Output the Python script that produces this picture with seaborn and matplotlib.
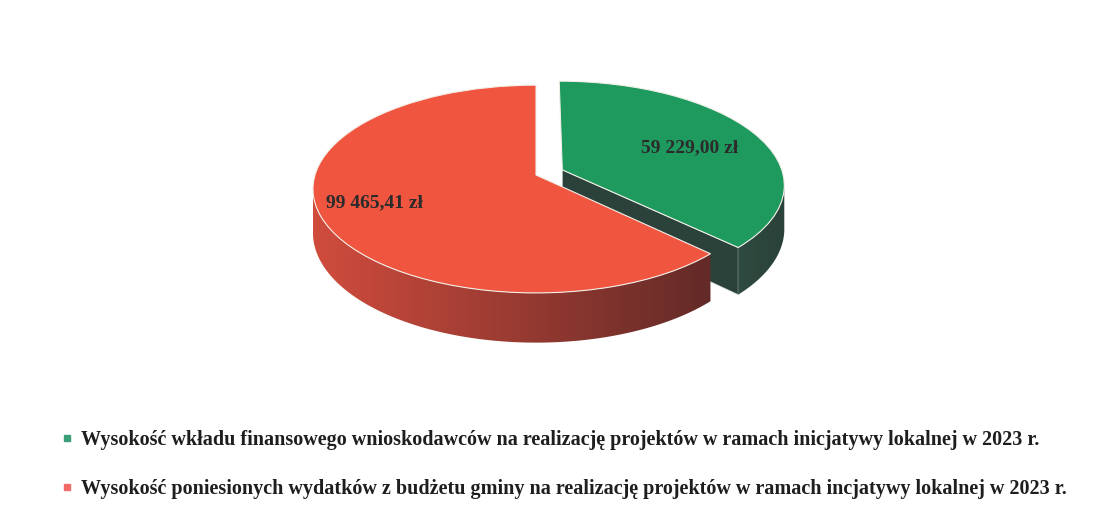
import numpy as np
import matplotlib.pyplot as plt
import seaborn as sns
from matplotlib.patches import Polygon
from matplotlib.lines import Line2D
from matplotlib.colors import LinearSegmentedColormap
from matplotlib.transforms import Transform

sns.set_theme(style="white")
plt.rcParams["font.family"] = ["Liberation Serif", "DejaVu Serif"]

# data
labels = [
    "Wysokość wkładu finansowego wnioskodawców na realizację projektów w ramach inicjatywy lokalnej w 2023 r.",
    "Wysokość poniesionych wydatków z budżetu gminy na realizację projektów w ramach incjatywy lokalnej w 2023 r.",
]
values = [59229.00, 99465.41]
value_labels = ["59 229,00 zł", "99 465,41 zł"]
top_colors = ["#1f9a5f", "#f0553f"]
side_colors = [["#2f4a40", "#2a4239"], ["#d04c3d", "#632a27"]]
legend_colors = ["#3aa07a", "#f06a6a"]
explode = [0.13, 0]

W, H = 1108, 513
# tilted-disc projection (pixel space, y up)
A = 0.135          # perspective strength
CX, CY = 536, H - 175
SX, SY = 221, 102
D = 43             # thickness of the pie in pixels


def project(x, y):
    d = 1 + A * y
    return CX + SX * x / d, CY + SY * y / d


def drop(y):
    return D / (1 + A * y)


class Tilt(Transform):
    input_dims = output_dims = 2

    def transform_non_affine(self, values):
        v = np.asarray(values, dtype=float)
        X, Y = project(v[:, 0], v[:, 1])
        return np.column_stack([X, Y])


fig = plt.figure(figsize=(W / 100, H / 100), dpi=100)
ax = fig.add_axes([0, 0, 1, 1])

wedges, _ = ax.pie(values, colors=top_colors, startangle=90, counterclock=False,
                   explode=explode, radius=1,
                   wedgeprops=dict(linewidth=0.8, edgecolor="#f3efe8"))
ax.set_aspect("auto")
ax.axis("off")

tilt = Tilt()
for w in wedges:
    w.set_transform(tilt + ax.transData)

lim = np.degrees(np.arcsin(A))


def front_range(t1, t2):
    # part of the rim that faces the viewer
    out = []
    for k in (-720, -360, 0, 360):
        lo, hi = max(t1, -180 + lim + k), min(t2, -lim + k)
        if hi > lo:
            out.append((lo, hi))
    return out


# sides: green first, then red (red is in front)
for i in [0, 1]:
    w = wedges[i]
    cx, cy = w.center
    r = w.r
    t1, t2 = w.theta1, w.theta2
    c_light, c_dark = side_colors[i]
    # radial cut faces
    for th, vis in [(t1, np.cos(np.radians(t1)) > 1e-6),
                    (t2, np.cos(np.radians(t2)) < -1e-6)]:
        if vis:
            gx = np.array([cx, cx + r * np.cos(np.radians(th))])
            gy = np.array([cy, cy + r * np.sin(np.radians(th))])
            px, py = project(gx, gy)
            quad = [(px[0], py[0]), (px[1], py[1]),
                    (px[1], py[1] - drop(gy[1])), (px[0], py[0] - drop(gy[0]))]
            ax.add_patch(Polygon(quad, closed=True, facecolor=c_dark,
                                 edgecolor="#cfd6cf", linewidth=0.5, zorder=1))
    # curved rim, horizontal gradient
    for lo, hi in front_range(t1, t2):
        t = np.radians(np.linspace(lo, hi, 120))
        gx, gy = cx + r * np.cos(t), cy + r * np.sin(t)
        px, py = project(gx, gy)
        pts = np.vstack([np.column_stack([px, py]),
                         np.column_stack([px, py - drop(gy)])[::-1]])
        poly = Polygon(pts, closed=True, facecolor="none", edgecolor="none", zorder=1)
        ax.add_patch(poly)
        cmap = LinearSegmentedColormap.from_list("side", [c_light, c_dark])
        grad = np.linspace(0, 1, 256).reshape(1, -1)
        im = ax.imshow(grad, cmap=cmap, aspect="auto", zorder=1,
                       extent=(pts[:, 0].min(), pts[:, 0].max(),
                               pts[:, 1].min(), pts[:, 1].max()))
        im.set_clip_path(poly)

ax.set_xlim(0, W)
ax.set_ylim(0, H)

wedges[0].set_zorder(3)
wedges[1].set_zorder(4)

# value labels
label_pos = [(690, H - 148), (375, H - 203)]
for (x, y), txt in zip(label_pos, value_labels):
    ax.text(x, y, txt, ha="center", va="center", fontsize=14, fontweight="bold",
            color="#2b2b2b", zorder=6)

# legend
handles = [Line2D([], [], marker="s", linestyle="", color=c, markersize=5)
           for c in legend_colors]
fig.legend(handles, labels, loc="upper left", bbox_to_anchor=(0.039, 0.197),
           frameon=False, prop={"weight": "bold", "size": 14.5},
           handlelength=0.6, handletextpad=0.4, labelspacing=1.43,
           labelcolor="#1e1e1e")

fig.savefig("out.png", dpi=100, facecolor="white")
